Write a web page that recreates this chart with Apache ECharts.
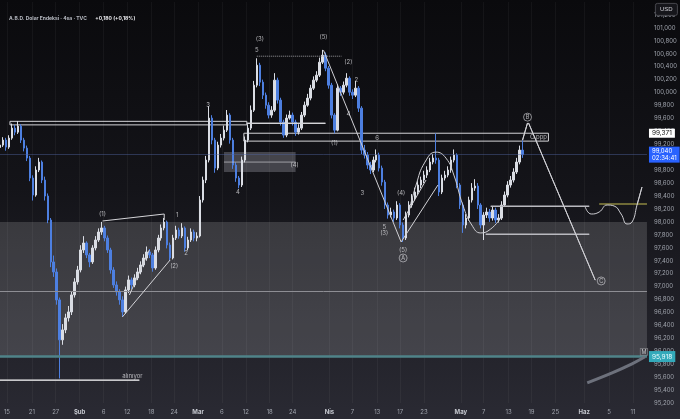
<!DOCTYPE html>
<html><head><meta charset="utf-8">
<script src="https://cdn.jsdelivr.net/npm/echarts@6/dist/echarts.min.js"></script>
<style>html,body{margin:0;padding:0;background:#0b0b0e;}#c{width:680px;height:419px;}</style>
</head><body><div id="c"></div>
<script>
// ---- candle data (bar index, price) ----
const barX = [0,3,6,9,12,15,18,21,24,27,30,33,36,39,42,45,48,51,54,57,60,63,66,69,72,75,78,81,84,87,90,93,96,99,102,105,108,111,114,117,120,123,126,129,132,135,138,141,144,147,150,153,156,159,162,165,168,171,174,177,180,183,186,189,192,195,198,201,204,207,210,213,216,219,222,225,228,231,234,237,240,243,246,249,252,255,258,261,264,267,270,273,276,279,282,285,288,291,294,297,300,303,306,309,312,315,318,321,324,327,330,333,336,339,342,345,348,351,354,357,360,363,366,369,372,375,378,381,384,387,390,393,396,399,402,405,408,411,414,417,420,423,426,429,432,435,438,441,444,447,450,453,456,459,462,465,468,471,474,477,480,483,486,489,492,495,498,501,504,507,510,513,516,519,522,525];
const closes = [99188,99265,99157,99296,99450,99388,99481,99265,99141,98987,98678,98415,98802,98925,98647,98400,98029,97381,97226,96794,96176,96330,96516,96608,96871,97072,97257,97566,97674,97489,97381,97597,97720,97844,97906,97751,97566,97257,97025,96917,96794,96608,96948,97103,97025,97134,97226,97334,97442,97535,97489,97288,97566,97751,97906,97998,97643,97442,97751,97875,97782,97906,97597,97720,97844,97751,97782,98338,98647,98956,99605,99265,98832,99188,99296,99419,99651,99265,98879,98678,98570,98956,99265,99450,99728,100114,100423,100161,99960,99805,99651,99728,100192,99883,99543,99342,99605,99651,99543,99388,99450,99651,99805,99914,100068,100192,100269,100469,100578,100377,100114,99651,99419,100068,100006,100114,100222,100006,99960,100068,99759,99110,99033,98879,98802,98956,99033,98832,98616,98261,98106,98153,98060,98261,97952,97751,98106,98261,98369,98462,98570,98647,98724,98802,98925,98987,98956,98462,98678,98724,98802,98956,99033,98570,98261,97952,98060,98338,98523,98554,98261,97952,98106,98153,98060,98184,98029,98060,98261,98415,98570,98647,98771,98925,99110,99040];
const opens = [99150,99188,99265,99157,99296,99450,99388,99481,99265,99141,98987,98678,98415,98802,98925,98647,98400,98029,97381,97226,96794,96176,96330,96516,96608,96871,97072,97257,97566,97674,97489,97381,97597,97720,97844,97906,97751,97566,97257,97025,96917,96794,96608,96948,97103,97025,97134,97226,97334,97442,97535,97489,97288,97566,97751,97906,97998,97643,97442,97751,97875,97782,97906,97597,97720,97844,97751,97782,98338,98647,98956,99605,99265,98832,99188,99296,99419,99651,99265,98879,98678,98570,98956,99265,99450,99728,100114,100423,100161,99960,99805,99651,99728,100192,99883,99543,99342,99605,99651,99543,99388,99450,99651,99805,99914,100068,100192,100269,100469,100578,100377,100114,99651,99419,100068,100006,100114,100222,100006,99960,100068,99759,99110,99033,98879,98802,98956,99033,98832,98616,98261,98106,98153,98060,98261,97952,97751,98106,98261,98369,98462,98570,98647,98724,98802,98925,98987,98956,98462,98678,98724,98802,98956,99033,98570,98261,97952,98060,98338,98523,98554,98261,97952,98106,98153,98060,98184,98029,98060,98261,98415,98570,98647,98771,98925,99110];
const highs = [99240,99310,99300,99340,99520,99500,99560,99510,99300,99180,99020,98720,98860,98990,98950,98700,98440,98060,97480,97280,96830,96420,96580,96700,96920,97130,97320,97640,97780,97700,97520,97640,97780,97900,98000,97940,97790,97600,97300,97080,96960,96850,97000,97170,97140,97190,97290,97390,97500,97620,97580,97520,97620,97800,97960,98060,98020,97680,97800,97940,97910,97980,97930,97770,97900,97880,97840,98400,98700,99020,99790,99650,99300,99240,99360,99490,99730,99680,99300,98920,98710,99010,99320,99510,99800,100180,100530,100460,100200,100000,99850,99790,100300,100230,99920,99580,99660,99720,99690,99580,99510,99700,99860,99980,100120,100250,100330,100540,100660,100620,100410,100150,99680,100130,100100,100170,100300,100250,100050,100180,100100,99790,99190,99080,98930,99010,99120,99070,98870,98650,98300,98220,98190,98320,98290,97990,98160,98320,98430,98530,98630,98700,98790,98860,98990,99050,99370,98990,98730,98790,98860,99010,99120,99060,98600,98300,98120,98390,98600,98660,98600,98290,98150,98220,98200,98240,98220,98120,98320,98470,98630,98710,98830,98990,99180,99260];
const lows = [99110,99160,99100,99130,99270,99340,99360,99220,99090,98940,98630,98330,98390,98770,98600,98330,97980,97300,97150,96720,95580,96100,96280,96460,96560,96830,97030,97220,97520,97440,97300,97350,97560,97690,97800,97700,97520,97200,96980,96860,96720,96530,96580,96900,96960,96990,97100,97190,97300,97400,97440,97230,97260,97530,97710,97870,97590,97400,97420,97720,97740,97750,97540,97560,97690,97700,97700,97760,98300,98600,98920,99200,98760,98800,99150,99260,99390,99210,98820,98620,98520,98540,98920,99230,99420,99700,100080,100100,99900,99750,99600,99610,99700,99830,99490,99300,99310,99580,99490,99330,99350,99420,99620,99780,99880,100040,100160,100240,100440,100330,100060,99600,99370,99400,99950,99970,100080,99950,99900,99930,99700,99050,98980,98820,98740,98770,98920,98780,98560,98200,98050,98070,98000,98030,97900,97690,97720,98070,98220,98330,98420,98520,98600,98680,98770,98890,98900,98400,98430,98640,98690,98760,98920,98520,98200,97830,97900,98020,98300,98480,98200,97900,97720,98060,98000,98020,97980,97990,98030,98230,98380,98530,98610,98740,98890,98990];

// ---- axes ----
const tickBars = [7,32,56,80,104,128,152,175,199,223,247,271,294,331,354,379,402,426,463,486,511,534,558,587,612,636];
const tickLabels = ['15','21','27','Şub','6','12','18','24','Mar','6','12','18','24','Nis','7','13','17','23','May','7','13','19','25','Haz','5','11'];
const monthNames = ['Şub','Mar','Nis','May','Haz'];
const priceMin = 95200, priceMax = 101400, priceStep = 200;

// ---- levels ----
const zoneTop = 98000, zoneBottom = 95918;
const midLevel = 96933;
const lastPrice = 99040, lastTimer = '02:34:41';
const markPrice = 99371;

// ---- drawn annotations (bar, price) ----
const topBox = [[10, 99555], [248, 99500]];
const topArrow = [[248, 99528], [327, 99528]];
const levelBox = [[245, 99371], [551, 99249]];
const grayBox = [[225, 99080], [297, 98770]];
const grayBoxMid = [[225, 98925], [297, 98925]];
const dottedTop = [[258, 100562], [343, 100562]];
const diagA = [[325, 100655], [403, 97690]];
const line1 = [[103, 98014], [165, 98122], [165, 98030]];
const channelLow = [[123, 96531], [171, 97412]];
const channelUp = [[130, 96870], [150, 97566]];
const arcPath = [[410, 98106], [418, 98570], [427, 98925], [438, 99079], [448, 98987], [456, 98724], [465, 98261], [474, 97952], [483, 97829], [493, 97890], [503, 98060]];
const wedgeA = [[403, 97690], [440, 98570]];
const wedgeB = [[405, 98029], [428, 98647]];
const arrowUpper = [[493, 98246], [592, 98246]];
const arrowLower = [[488, 97813], [592, 97813]];
const oliveLine = [[602, 98277], [650, 98277]];
const wavePath = [[588, 98230], [594, 98122], [602, 98153], [610, 98261], [617, 98246], [624, 98122], [630, 97968], [635, 97998], [640, 98261], [645, 98539]];
const toB = [[525, 99265], [530, 99530]];
const toC = [[531, 99530], [598, 97100]];
const bottomCurve = [[590, 95512], [615, 95666], [635, 95805], [648, 95914]];
const bottomArrow = [[0, 95558], [140, 95558]];

const waveText = [
  [103, 98122, '(1)'], [178, 98106, '1'], [175, 97319, '(2)'], [187, 97520, '2'],
  [209, 99805, '3'], [239, 98462, '4'], [258, 100655, '5'], [261, 100825, '(3)'],
  [296, 98879, '(4)'], [325, 100856, '(5)'], [336, 99219, '(1)'], [350, 100469, '(2)'],
  [358, 100192, '2'], [350, 99666, '4'], [364, 98446, '3'], [379, 99296, '6'],
  [403, 98446, '(4)'], [386, 97921, '5'], [386, 97829, '(3)'], [405, 97566, '(5)'],
  [541, 99311, 'C ppp'], [133, 95610, 'alınıyor']
];
const circledText = [[405, 97442, 'A'], [530, 99620, 'B'], [604, 97087, 'C']];
const boxedText = [[647, 95990, 'M']];

// ---- build ----
const candles = barX.map((x, i) => [x, opens[i], closes[i], lows[i], highs[i]]);
const fmt = v => Math.round(v).toLocaleString('en-US');
const LINE = '#d4d4d8';

function seg(points, style, arrow, smooth) {
  const ls = Object.assign({ color: LINE, width: 1 }, style || {});
  const s = { type: 'line', data: points, symbol: 'none', silent: true, smooth: smooth || false, z: 6, lineStyle: ls, animation: false };
  if (arrow) {
    const n = points.length;
    s.markLine = { symbol: ['none', 'arrow'], symbolSize: [0, 6], silent: true, animation: false, label: { show: false },
      lineStyle: Object.assign({}, ls, { type: 'solid' }), data: [[{ coord: points[n - 2] }, { coord: points[n - 1] }]] };
  }
  return s;
}

const series = [
  { type: 'line', data: [], z: 1, silent: true,
    markArea: { silent: true, animation: false, data: [
      [{ yAxis: zoneTop, itemStyle: { color: 'rgba(255,255,255,0.15)' } }, { yAxis: zoneBottom }],
      [{ coord: grayBox[0], itemStyle: { color: 'rgba(150,150,160,0.38)' } }, { coord: grayBox[1] }],
      [{ coord: topBox[0], itemStyle: { color: 'rgba(0,0,0,0)', borderColor: LINE, borderWidth: 1 } }, { coord: topBox[1] }],
      [{ coord: levelBox[0], itemStyle: { color: 'rgba(0,0,0,0)', borderColor: LINE, borderWidth: 1 } }, { coord: levelBox[1] }]
    ] },
    markLine: { symbol: 'none', silent: true, animation: false, data: [
      { yAxis: midLevel, lineStyle: { color: '#8e8e94', width: 1, type: 'solid' }, label: { show: false } },
      { yAxis: zoneBottom, lineStyle: { color: '#4f8389', width: 2.5, type: 'solid' },
        label: { show: true, position: 'end', distance: 2, formatter: fmt(zoneBottom), backgroundColor: '#33a9ba', color: '#eafcff', fontSize: 6.5, padding: [2, 3] } },
      { yAxis: lastPrice, lineStyle: { color: 'rgba(80,100,160,0.45)', width: 1, type: 'solid' },
        label: { show: true, position: 'end', distance: 2, formatter: fmt(lastPrice) + '\n' + lastTimer, backgroundColor: '#2962ff', color: '#ffffff', fontSize: 6, lineHeight: 7, padding: [1, 3] } },
      { yAxis: markPrice, lineStyle: { color: 'rgba(0,0,0,0)', width: 1 },
        label: { show: true, position: 'end', distance: 2, formatter: fmt(markPrice), backgroundColor: '#ffffff', color: '#111111', fontSize: 6.5, padding: [1, 3] } }
    ] }
  },
  { type: 'candlestick', data: candles, barWidth: 2, z: 3, animation: false,
    itemStyle: { color: '#dadde4', color0: '#4d7fe0', borderColor: '#dadde4', borderColor0: '#4d7fe0', borderWidth: 1 } },
  seg(topArrow, null, true),
  seg(grayBoxMid, { color: 'rgba(220,220,225,0.6)' }),
  seg(dottedTop, { color: '#9a9aa0', type: 'dotted' }),
  seg(diagA, { color: '#cfcfd4' }),
  seg(line1, null),
  seg(channelLow, null),
  seg(channelUp, null),
  seg(arcPath, { color: '#cfcfd4' }, false, 0.5),
  seg(wedgeA, null),
  seg(wedgeB, null),
  seg(arrowUpper, { color: '#b9b9bf' }, true),
  seg(arrowLower, { color: '#b9b9bf' }, true),
  seg(oliveLine, { color: '#8c8740', width: 1.5 }),
  seg(wavePath, { color: '#cfcfd4' }, true, 0.5),
  seg(toB, null, true),
  seg(toC, { color: '#cfcfd4' }, true),
  seg(bottomCurve, { color: '#6d717c', width: 3 }, false, 0.4),
  seg(bottomArrow, { color: '#c8c8cc' }, true),
  { type: 'scatter', z: 8, silent: true, animation: false, symbol: 'circle', symbolSize: 1,
    itemStyle: { color: 'rgba(0,0,0,0)' },
    data: waveText.map(d => ({ value: [d[0], d[1]], name: d[2] })),
    label: { show: true, position: 'inside', formatter: p => p.name, color: '#d8d8dc', fontSize: 6 } },
  { type: 'scatter', z: 8, silent: true, animation: false, symbol: 'circle', symbolSize: 8,
    itemStyle: { color: 'rgba(0,0,0,0)', borderColor: '#cfcfd4', borderWidth: 0.8 },
    data: circledText.map(d => ({ value: [d[0], d[1]], name: d[2] })),
    label: { show: true, position: 'inside', formatter: p => p.name, color: '#e0e0e4', fontSize: 5.5 } },
  { type: 'scatter', z: 8, silent: true, animation: false, symbol: 'rect', symbolSize: 1,
    itemStyle: { color: 'rgba(0,0,0,0)' },
    data: boxedText.map(d => ({ value: [d[0], d[1]], name: d[2] })),
    label: { show: true, position: 'inside', formatter: p => p.name, color: '#e0e0e4', fontSize: 5.5, borderColor: '#9a9aa0', borderWidth: 0.6, padding: [0, 1], backgroundColor: '#3a3a40' } }
];

const chart = echarts.init(document.getElementById('c'), null, { renderer: 'canvas' });
chart.setOption({
  animation: false,
  backgroundColor: { type: 'linear', x: 0, y: 0, x2: 0, y2: 1, colorStops: [
    { offset: 0, color: '#0a0a0d' }, { offset: 0.45, color: '#141419' }, { offset: 0.85, color: '#24242c' }, { offset: 1, color: '#2a2a33' } ] },
  textStyle: { fontFamily: 'Inter, Roboto, "Noto Sans", sans-serif' },
  title: { left: 4, top: 4,
    text: '{a|A.B.D. Dolar Endeksi · 4sa · TVC}  {b|+0,180 (+0,18%)}',
    textStyle: { rich: { a: { color: '#b9bcc4', fontSize: 5 }, b: { color: '#ececf0', fontSize: 5, fontWeight: 'bold' } } } },
  grid: { left: 0, right: 30, top: 2, bottom: 16 },
  xAxis: { type: 'value', min: 0, max: 650,
    axisLine: { show: false },
    axisTick: { show: false, customValues: tickBars },
    axisLabel: { customValues: tickBars, color: '#9ea2ab', fontSize: 6, margin: 6,
      formatter: v => { const t = tickLabels[tickBars.indexOf(v)] || ''; return monthNames.includes(t) ? '{m|' + t + '}' : t; },
      rich: { m: { color: '#c6c9d0', fontSize: 6, fontWeight: 'bold' } } },
    splitLine: { show: true, lineStyle: { color: 'rgba(255,255,255,0.045)', width: 1 } } },
  yAxis: { type: 'value', position: 'right', min: priceMin, max: priceMax, interval: priceStep,
    axisLine: { show: false }, axisTick: { show: false },
    splitLine: { show: false },
    axisLabel: { color: '#9ea2ab', fontSize: 6, margin: 7, formatter: v => v >= priceMax ? '' : fmt(v) } },
  graphic: [
    { type: 'rect', left: 655, top: 3, shape: { width: 22, height: 12, r: 2 }, style: { fill: '#16161b', stroke: '#55555c', lineWidth: 0.8 }, z: 10 },
    { type: 'text', left: 660, top: 6, style: { text: 'USD', fill: '#d0d0d6', fontSize: 6 }, z: 11 }
  ],
  series: series
});
</script>
</body></html>
